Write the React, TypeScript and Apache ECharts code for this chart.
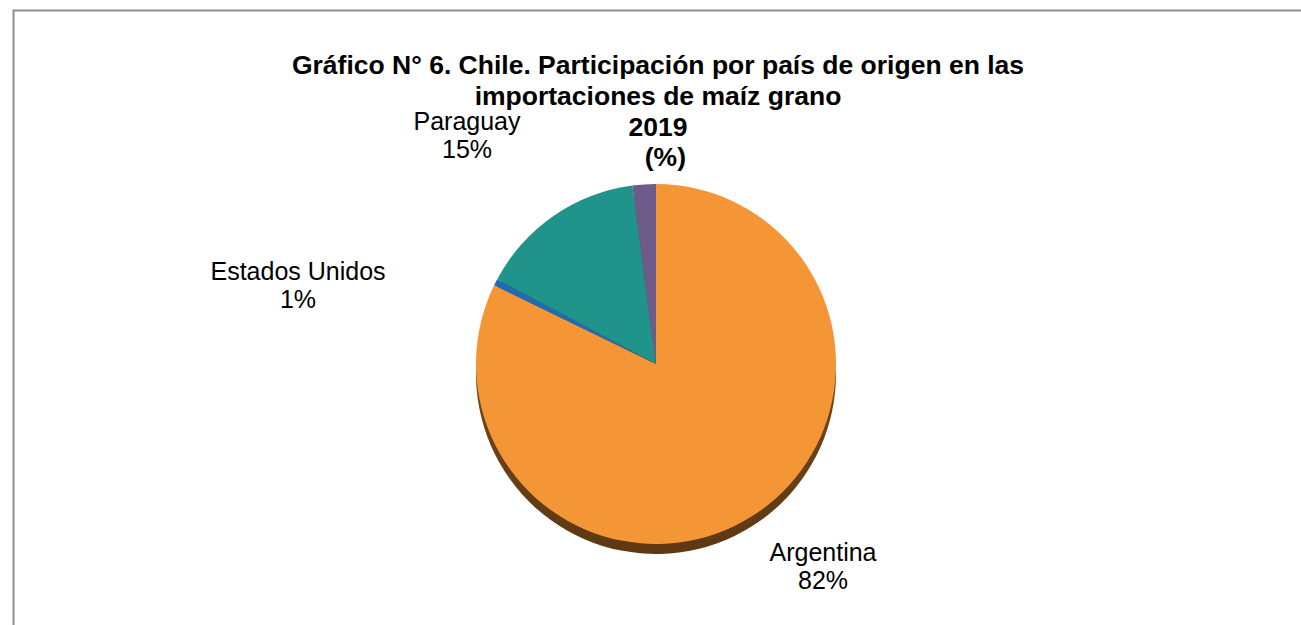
import React, { useEffect, useRef } from "react";
import * as echarts from "echarts";

const categories = ["Argentina", "Estados Unidos", "Paraguay", "Otros"];
const values = [82.2, 0.6, 15.1, 2.1];
const colors = ["#F59636", "#1C6DB8", "#20938A", "#6D5B8C"];
const showLabel = [true, true, true, false];

const titleLines = [
  "Gráfico N° 6. Chile. Participación por país de origen en las",
  "importaciones de maíz grano",
  "2019",
  "  (%)",
];

// label anchor positions (text placement, not marks)
const labelPos: Record<string, [number, number]> = {
  Argentina: [823, 566],
  "Estados Unidos": [298, 285],
  Paraguay: [467, 135],
};

const FONT = "'Liberation Sans', Arial, sans-serif";

export default function App() {
  const ref = useRef<HTMLDivElement>(null);
  useEffect(() => {
    if (!ref.current) return;
    const chart = echarts.init(ref.current, null, { renderer: "svg" });
    const data = categories.map((name, i) => ({
      name,
      value: values[i],
      itemStyle: { color: colors[i] },
      label: { show: showLabel[i] },
    }));
    const shadowData = categories.map((name, i) => ({
      name,
      value: values[i],
    }));
    chart.setOption({
      animation: false,
      backgroundColor: "#ffffff",
      title: {
        text: titleLines.join("\n"),
        left: 658,
        top: 50,
        padding: 0,
        textAlign: "center",
        textStyle: {
          fontFamily: FONT,
          fontSize: 26.5,
          fontWeight: "bold",
          color: "#000",
          lineHeight: 30.7,
        },
      },
      graphic: [
        {
          type: "rect",
          silent: true,
          z: -10,
          shape: { x: 13.5, y: 10.5, width: 1400, height: 800 },
          style: { fill: "none", stroke: "#8e8e8e", lineWidth: 2 },
        },
      ],
      series: [
        {
          type: "pie",
          silent: true,
          z: 1,
          center: [656, 374],
          radius: [0, 180],
          startAngle: 90,
          clockwise: true,
          label: { show: false },
          labelLine: { show: false },
          itemStyle: {
            color: {
              type: "linear",
              x: 0,
              y: 0,
              x2: 0,
              y2: 1,
              colorStops: [
                { offset: 0, color: "#8a5620" },
                { offset: 1, color: "#5e3812" },
              ],
            },
          },
          data: shadowData,
        },
        {
          type: "pie",
          z: 2,
          center: [656, 364],
          radius: [0, 180],
          startAngle: 90,
          clockwise: true,
          avoidLabelOverlap: false,
          itemStyle: { borderWidth: 0 },
          label: {
            show: true,
            position: "outside",
            fontFamily: FONT,
            fontSize: 25,
            color: "#000",
            lineHeight: 28,
            align: "center",
            formatter: (p: any) => `${p.name}\n${Math.round(p.value)}%`,
          },
          labelLine: { show: false },
          labelLayout: (params: any) => {
            const name = categories[params.dataIndex];
            const pos = labelPos[name];
            if (!pos) return {};
            return { x: pos[0], y: pos[1], align: "center", verticalAlign: "middle" };
          },
          data,
        },
      ],
    });
    return () => chart.dispose();
  }, []);
  return (
    <div
      ref={ref}
      style={{ position: "fixed", left: 0, top: 0, width: 1301, height: 625 }}
    />
  );
}
